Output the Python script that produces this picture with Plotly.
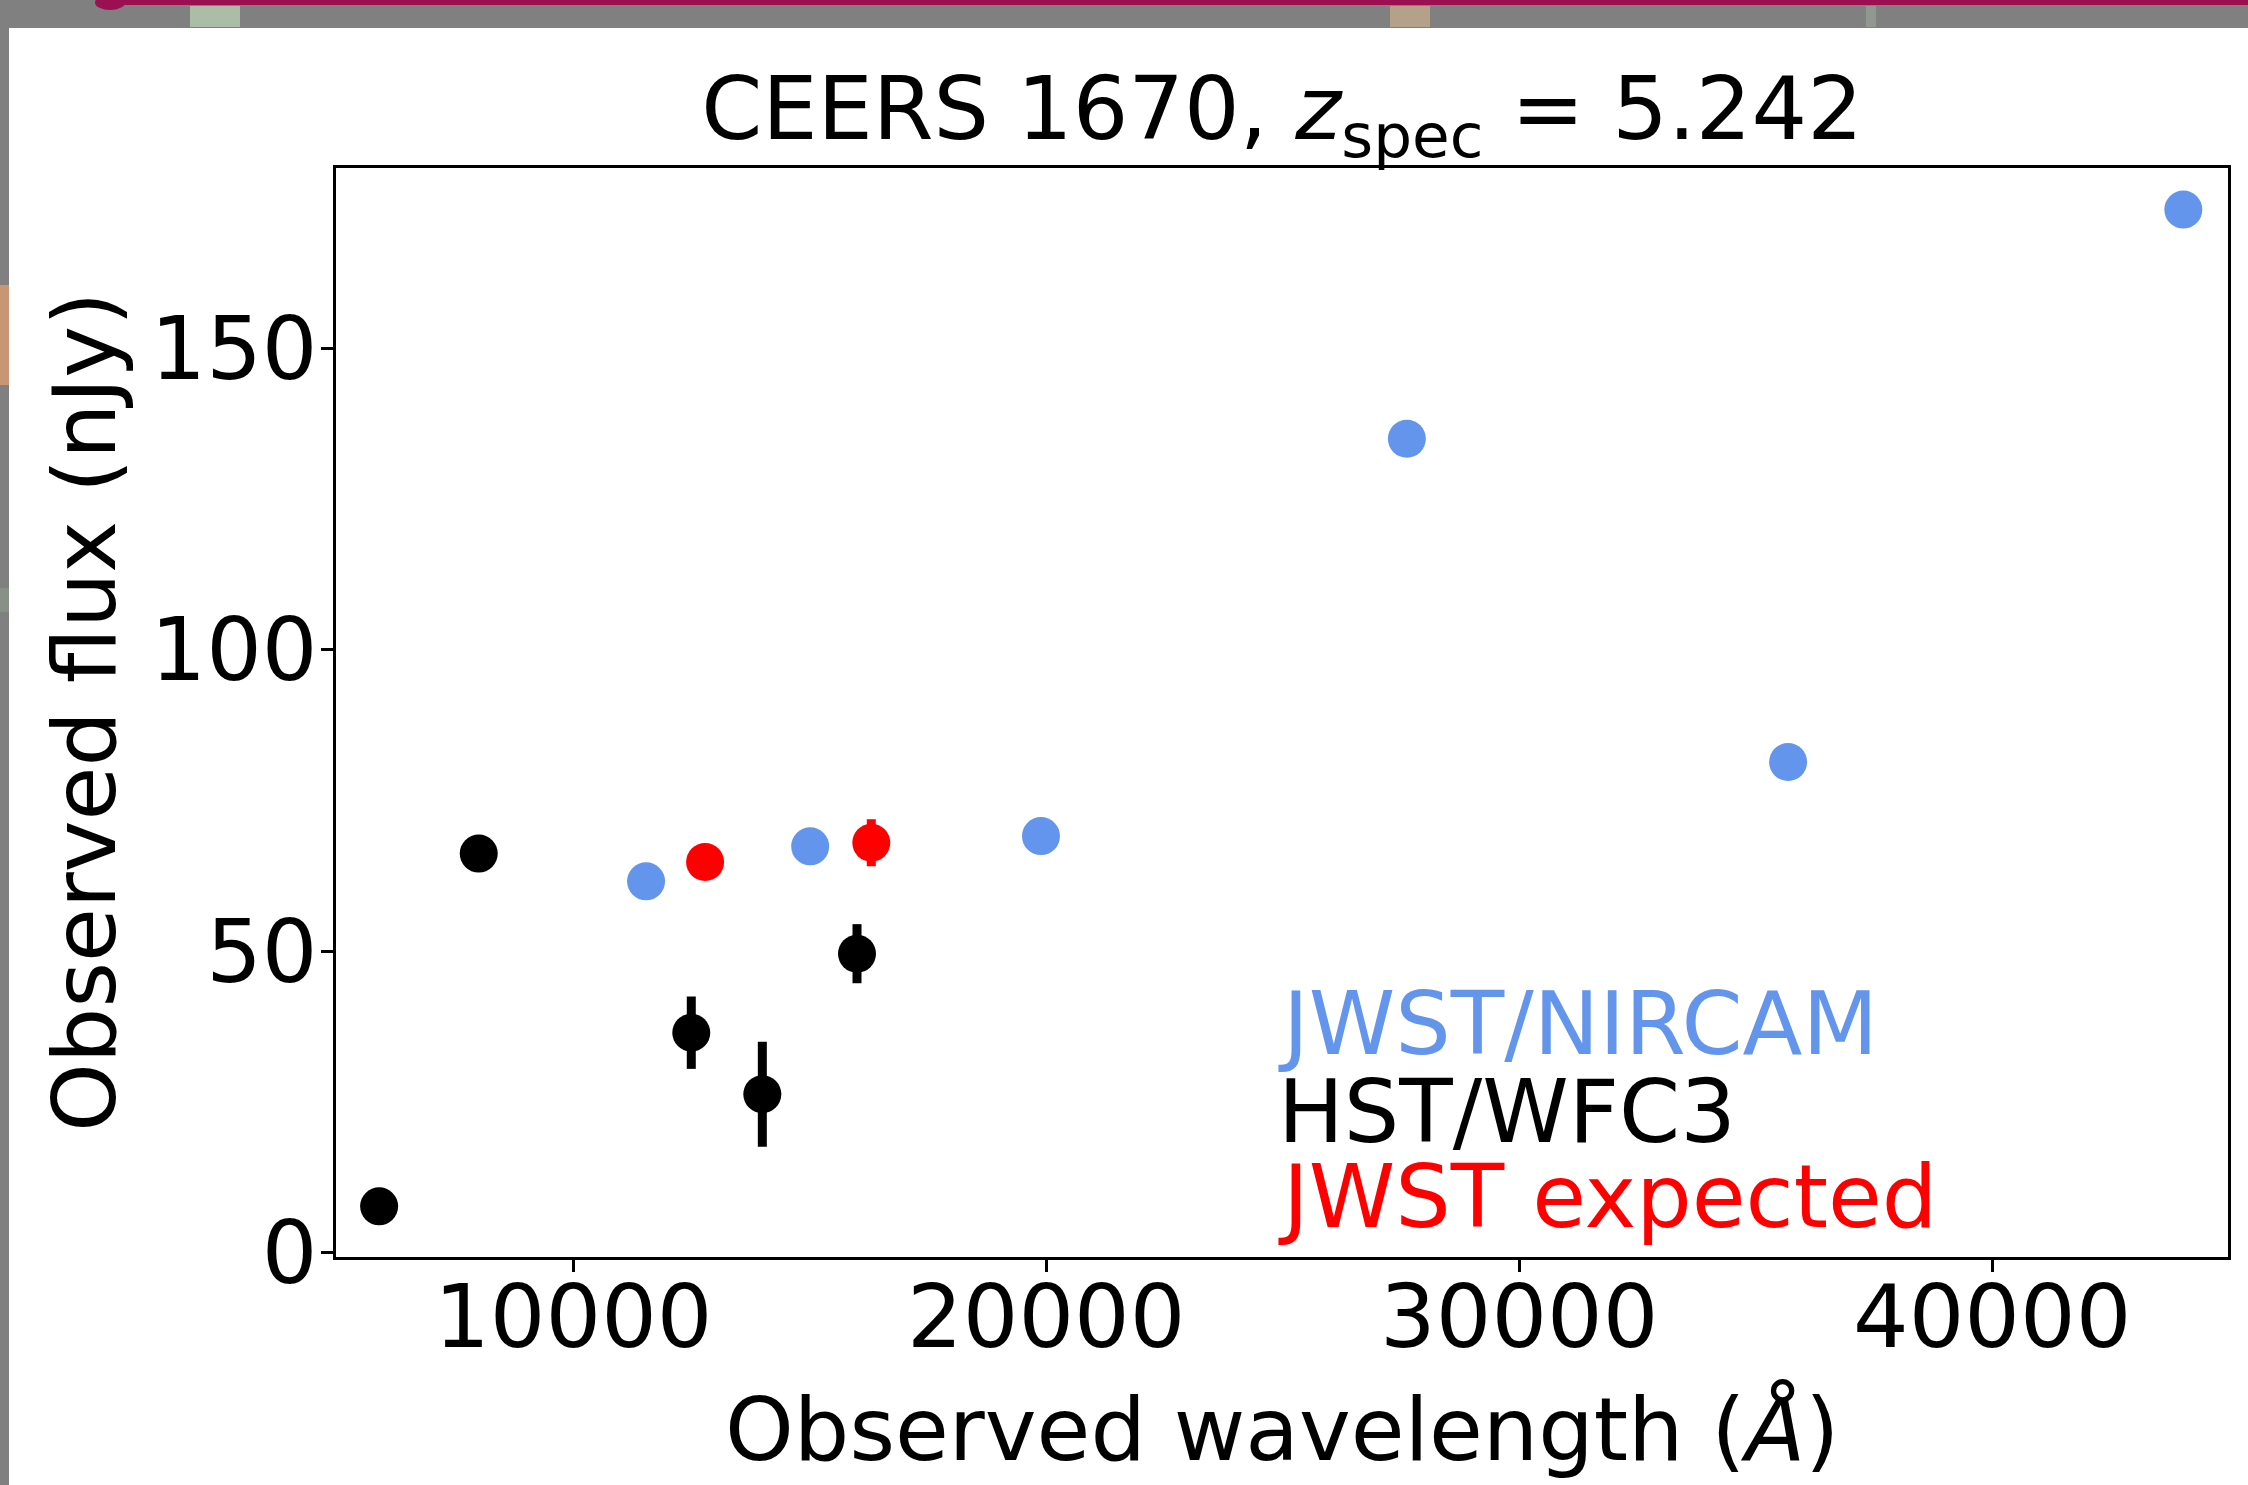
import plotly.graph_objects as go

# ---------------- data ----------------
hst_wave = [5894, 8000, 12494, 13996, 15998]
hst_flux = [7.7, 66.2, 36.5, 26.3, 49.6]
hst_err = [0.0, 0.0, 6.0, 8.7, 4.9]

nircam_wave = [11538, 15008, 19888, 27624, 35685, 44041]
nircam_flux = [61.6, 67.4, 69.1, 135.0, 81.4, 173.0]

expected_wave = [12786, 16300]
expected_flux = [64.8, 68.0]
expected_err = [0.0, 3.9]

x_ticks = [10000, 20000, 30000, 40000]
x_tick_labels = ["10000", "20000", "30000", "40000"]
y_ticks = [0, 50, 100, 150]
y_tick_labels = ["0", "50", "100", "150"]

legend_labels = ["JWST/NIRCAM", "HST/WFC3", "JWST expected"]
legend_y = [38.0, 23.3, 9.2]

# ---------------- layout geometry ----------------
FW, FH = 2248, 1485
L, R, T, B = 336, 2228, 168, 1257
PW, PH = R - L, B - T

def px_x(p):
    return (p - L) / PW

def px_y(p):
    return (B - p) / PH

BLUE = "#6495ED"
RED = "#FF0000"
BLACK = "#000000"
FONT = "DejaVu Sans"
FS = 87.5

fig = go.Figure()

fig.add_trace(go.Scatter(
    x=hst_wave, y=hst_flux, mode="markers",
    marker=dict(color=BLACK, size=38),
    error_y=dict(type="data", array=hst_err, visible=True, thickness=9, width=0, color=BLACK),
    showlegend=False, cliponaxis=False))

fig.add_trace(go.Scatter(
    x=nircam_wave, y=nircam_flux, mode="markers",
    marker=dict(color=BLUE, size=38),
    showlegend=False, cliponaxis=False))

fig.add_trace(go.Scatter(
    x=expected_wave, y=expected_flux, mode="markers",
    marker=dict(color=RED, size=38),
    error_y=dict(type="data", array=expected_err, visible=True, thickness=9, width=0, color=RED),
    showlegend=False, cliponaxis=False))

# text legend
for lbl, yy, col in zip(legend_labels, legend_y, [BLUE, BLACK, RED]):
    fig.add_annotation(x=24850, y=yy, xref="x", yref="y", text=lbl, showarrow=False,
                       xanchor="left", yanchor="middle",
                       font=dict(family=FONT, size=FS, color=col))

# axis titles as annotations
fig.add_annotation(x=px_x(1282), y=px_y(1430), xref="paper", yref="paper",
                   text="Observed wavelength (<i>Å</i>)", showarrow=False,
                   xanchor="center", yanchor="middle",
                   font=dict(family=FONT, size=FS, color=BLACK))
fig.add_annotation(x=px_x(85), y=px_y(712), xref="paper", yref="paper",
                   text="Observed flux (nJy)", showarrow=False, textangle=-90,
                   xanchor="center", yanchor="middle",
                   font=dict(family=FONT, size=FS, color=BLACK))

# background decoration (screenshot frame)
GRAY = "#808080"
shapes = [
    dict(type="rect", xref="paper", yref="paper", x0=px_x(0), x1=px_x(FW), y0=px_y(28), y1=px_y(0),
         fillcolor=GRAY, line=dict(width=0), layer="above"),
    dict(type="rect", xref="paper", yref="paper", x0=px_x(0), x1=px_x(9), y0=px_y(FH), y1=px_y(0),
         fillcolor=GRAY, line=dict(width=0), layer="above"),
    dict(type="rect", xref="paper", yref="paper", x0=px_x(110), x1=px_x(FW), y0=px_y(5), y1=px_y(0),
         fillcolor="#9B1050", line=dict(width=0), layer="above"),
    dict(type="circle", xref="paper", yref="paper", x0=px_x(95), x1=px_x(125), y0=px_y(10), y1=px_y(-5),
         fillcolor="#9B1050", line=dict(width=0), layer="above"),
    # soft coloured blurs in the frame
    dict(type="rect", xref="paper", yref="paper", x0=px_x(190), x1=px_x(240), y0=px_y(27), y1=px_y(6),
         fillcolor="#C8E6C0", opacity=0.6, line=dict(width=0), layer="above"),
    dict(type="rect", xref="paper", yref="paper", x0=px_x(1390), x1=px_x(1430), y0=px_y(27), y1=px_y(6),
         fillcolor="#D8B890", opacity=0.6, line=dict(width=0), layer="above"),
    dict(type="rect", xref="paper", yref="paper", x0=px_x(1866), x1=px_x(1876), y0=px_y(27), y1=px_y(6),
         fillcolor="#A0B0A0", opacity=0.5, line=dict(width=0), layer="above"),
    dict(type="rect", xref="paper", yref="paper", x0=px_x(0), x1=px_x(9), y0=px_y(385), y1=px_y(285),
         fillcolor="#E8A070", opacity=0.7, line=dict(width=0), layer="above"),
    dict(type="rect", xref="paper", yref="paper", x0=px_x(0), x1=px_x(9), y0=px_y(612), y1=px_y(588),
         fillcolor="#90A090", opacity=0.5, line=dict(width=0), layer="above"),
]

fig.update_layout(
    width=FW, height=FH,
    margin=dict(l=L, r=FW - R, t=T, b=FH - B, autoexpand=False),
    paper_bgcolor="white", plot_bgcolor="white",
    title=dict(text="CEERS 1670, <i>z</i><sub>spec</sub> = 5.242",
               x=px_x(1282), xref="paper", xanchor="center",
               y=1 - 108 / FH, yref="container", yanchor="middle",
               font=dict(family=FONT, size=FS, color=BLACK)),
    font=dict(family=FONT, size=FS, color=BLACK),
    shapes=shapes,
    showlegend=False,
)

fig.update_xaxes(range=[4982, 44986], tickvals=x_ticks, ticktext=x_tick_labels,
                 ticks="outside", ticklen=12, tickwidth=3, tickcolor=BLACK,
                 ticklabelstandoff=-30,
                 showline=True, linecolor=BLACK, linewidth=3, mirror=True,
                 showgrid=False, zeroline=False,
                 tickfont=dict(family=FONT, size=FS, color=BLACK))
fig.update_yaxes(range=[-0.7, 179.9], tickvals=y_ticks, ticktext=y_tick_labels,
                 ticks="outside", ticklen=12, tickwidth=3, tickcolor=BLACK,
                 ticklabelstandoff=-14,
                 showline=True, linecolor=BLACK, linewidth=3, mirror=True,
                 showgrid=False, zeroline=False,
                 tickfont=dict(family=FONT, size=FS, color=BLACK))

fig.write_html("out.html")
